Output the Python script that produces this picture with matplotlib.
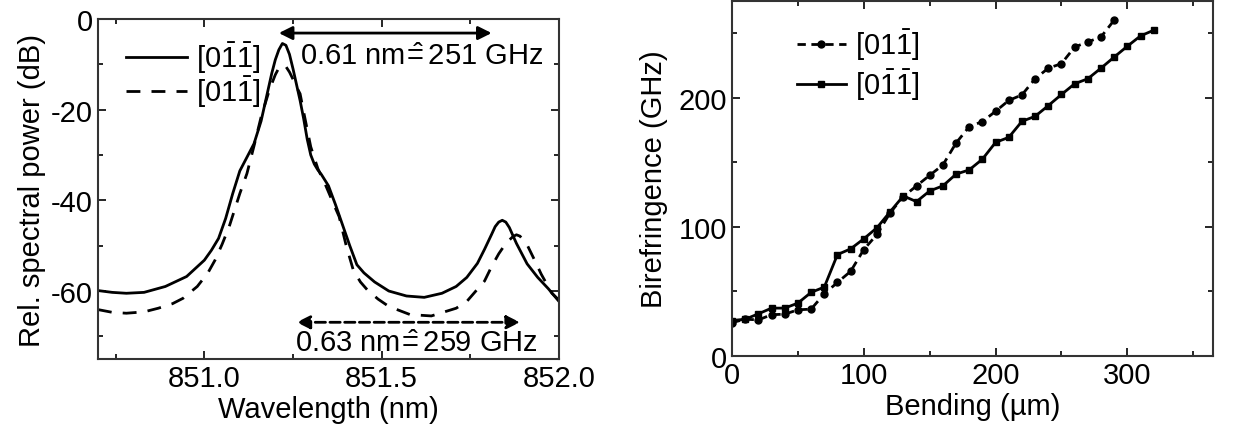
import matplotlib
matplotlib.use("Agg")
import matplotlib.pyplot as plt
from matplotlib.ticker import MultipleLocator

plt.rcParams['font.family'] = ['Liberation Sans', 'DejaVu Sans']
plt.rcParams['font.size'] = 21
plt.rcParams['axes.unicode_minus'] = False
plt.rcParams['mathtext.fontset'] = 'custom'
plt.rcParams['mathtext.rm'] = 'Liberation Sans'
plt.rcParams['mathtext.it'] = 'Liberation Sans'

# left panel: spectra
wl_solid = [850.70, 850.74, 850.78, 850.83, 850.89, 850.95, 851.00, 851.02, 851.04, 851.06,
            851.08, 851.10, 851.12, 851.14, 851.16, 851.18, 851.19, 851.20, 851.21, 851.22,
            851.23, 851.24, 851.25, 851.26, 851.27, 851.28, 851.29, 851.30, 851.31, 851.32,
            851.33, 851.35, 851.37, 851.39, 851.41, 851.43, 851.45, 851.48, 851.52, 851.57,
            851.62, 851.67, 851.71, 851.74, 851.77, 851.79, 851.81, 851.82, 851.83, 851.84,
            851.85, 851.86, 851.88, 851.91, 851.94, 851.97, 852.00]
p_solid = [-59.9, -60.3, -60.5, -60.3, -59.0, -56.8, -53.2, -51.0, -48.4, -44.0,
           -38.5, -33.5, -30.5, -27.5, -22.5, -15.5, -12.0, -9.0, -6.8, -5.4,
           -5.8, -7.8, -11.0, -14.5, -18.0, -22.0, -26.5, -30.0, -32.0, -33.3,
           -34.3, -36.8, -41.0, -45.5, -50.0, -54.2, -56.0, -58.0, -60.0, -61.1,
           -61.4, -60.5, -59.0, -57.0, -53.9, -50.8, -47.5, -45.8, -44.8, -44.4,
           -44.8, -46.0, -49.5, -54.0, -57.0, -59.5, -62.3]

wl_dash = [850.70, 850.74, 850.78, 850.83, 850.87, 850.91, 850.94, 850.98, 851.01, 851.03,
           851.05, 851.07, 851.10, 851.12, 851.14, 851.16, 851.18, 851.19, 851.20, 851.21,
           851.22, 851.23, 851.24, 851.25, 851.26, 851.27, 851.28, 851.30, 851.32, 851.34,
           851.36, 851.38, 851.40, 851.42, 851.44, 851.46, 851.49, 851.52, 851.58, 851.64,
           851.71, 851.74, 851.76, 851.79, 851.81, 851.83, 851.85, 851.87, 851.88, 851.89,
           851.91, 851.93, 851.95, 851.98, 852.00]
p_dash = [-64.1, -64.7, -64.9, -64.6, -63.8, -62.8, -61.6, -59.0, -56.0, -53.2,
          -49.7, -45.8, -38.5, -34.1, -28.0, -21.6, -16.5, -14.3, -12.3, -10.8,
          -10.2, -10.5, -11.7, -13.3, -15.0, -16.5, -20.5, -28.2, -33.0, -36.3,
          -40.0, -43.6, -50.0, -55.4, -58.0, -59.8, -61.8, -63.4, -65.2, -65.5,
          -63.8, -62.3, -60.5, -57.8, -54.6, -51.8, -49.5, -48.0, -47.6, -47.9,
          -49.8, -53.0, -56.3, -60.5, -62.0]

# right panel: birefringence vs bending
bend_circ = list(range(0, 300, 10))
bire_circ = [25.9, 28.5, 28.0, 32.0, 32.4, 35.8, 36.3, 48.2, 57.0, 65.6,
             82.5, 94.2, 111.0, 123.5, 131.8, 140.0, 148.0, 165.0, 177.7, 181.6,
             189.6, 198.0, 202.3, 214.8, 223.0, 226.5, 239.4, 243.3, 247.2, 260.2]
bend_sq = list(range(0, 330, 10))
bire_sq = [27.5, 28.5, 32.7, 37.1, 37.1, 41.0, 49.3, 53.4, 78.6, 83.0,
           90.8, 99.4, 111.8, 124.0, 119.6, 127.9, 131.8, 140.9, 144.2, 152.5,
           165.5, 169.4, 181.8, 185.7, 194.0, 202.6, 210.9, 214.8, 223.0, 231.6,
           240.0, 248.0, 252.4]

lab_bb = r'[0$\bar{1}\bar{1}$]'
lab_b = r'[01$\bar{1}$]'

fig = plt.figure(figsize=(12.37, 4.35), dpi=100)
ax1 = fig.add_axes([0.0792, 0.1724, 0.3727, 0.7816])
ax2 = fig.add_axes([0.5918, 0.1793, 0.3888, 0.8160])


def style(ax):
    for s in ax.spines.values():
        s.set_linewidth(1.5)
        s.set_color('#333333')
    ax.tick_params(which='both', direction='in', top=True, right=True, width=1.2, labelsize=21)
    ax.tick_params(which='major', length=6)
    ax.tick_params(which='minor', length=3.5)


ax1.plot(wl_solid, p_solid, color='black', lw=2, label=lab_bb)
ax1.plot(wl_dash, p_dash, color='black', lw=2, ls=(0, (5, 4)), label=lab_b)
ax1.set_xlim(850.7, 852.0)
ax1.set_ylim(-75, 0)
ax1.xaxis.set_major_locator(MultipleLocator(0.5))
ax1.xaxis.set_minor_locator(MultipleLocator(0.25))
ax1.yaxis.set_major_locator(MultipleLocator(20))
ax1.yaxis.set_minor_locator(MultipleLocator(10))
ax1.xaxis.set_major_formatter(plt.FormatStrFormatter('%.1f'))
ax1.set_xlabel('Wavelength (nm)', fontsize=21, labelpad=2)
ax1.set_ylabel('Rel. spectral power (dB)', fontsize=21, labelpad=4)
style(ax1)
ax1.legend(loc='upper left', frameon=False, fontsize=21, handlelength=2.1,
           handletextpad=0.3, borderaxespad=0.0, labelspacing=-0.05, bbox_to_anchor=(0.035, 0.975))

ax1.annotate('', xy=(851.21, -3.1), xytext=(851.81, -3.1),
             arrowprops=dict(arrowstyle='<|-|>', color='black', lw=2, mutation_scale=20, shrinkA=0, shrinkB=0))
ax1.text(851.27, -8.1, r'0.61 nm$\!\hat{=}\!\!$ 251 GHz', fontsize=21, va='center', ha='left')
ax1.annotate('', xy=(851.26, -66.9), xytext=(851.89, -66.9),
             arrowprops=dict(arrowstyle='<|-|>', color='black', lw=2, ls='--', mutation_scale=20,
                             shrinkA=0, shrinkB=0))
ax1.text(851.255, -71.5, r'0.63 nm$\!\hat{=}\!\!$ 259 GHz', fontsize=21, va='center', ha='left')

ax2.plot(bend_circ, bire_circ, color='black', lw=2, ls=(0, (3, 2)), marker='o', ms=5, label=lab_b)
ax2.plot(bend_sq, bire_sq, color='black', lw=2, marker='s', ms=5, label=lab_bb)
ax2.set_xlim(0, 365)
ax2.set_ylim(0, 275)
ax2.xaxis.set_major_locator(MultipleLocator(100))
ax2.xaxis.set_minor_locator(MultipleLocator(50))
ax2.yaxis.set_major_locator(MultipleLocator(100))
ax2.yaxis.set_minor_locator(MultipleLocator(50))
ax2.set_xlabel('Bending (\u00b5m)', fontsize=21, labelpad=2)
ax2.set_ylabel('Birefringence (GHz)', fontsize=21, labelpad=8)
style(ax2)
ax2.legend(loc='upper left', frameon=False, fontsize=21, handlelength=1.7,
           handletextpad=0.3, borderaxespad=0.0, labelspacing=0.15, bbox_to_anchor=(0.11, 0.96))

fig.savefig('out.png', dpi=100)
